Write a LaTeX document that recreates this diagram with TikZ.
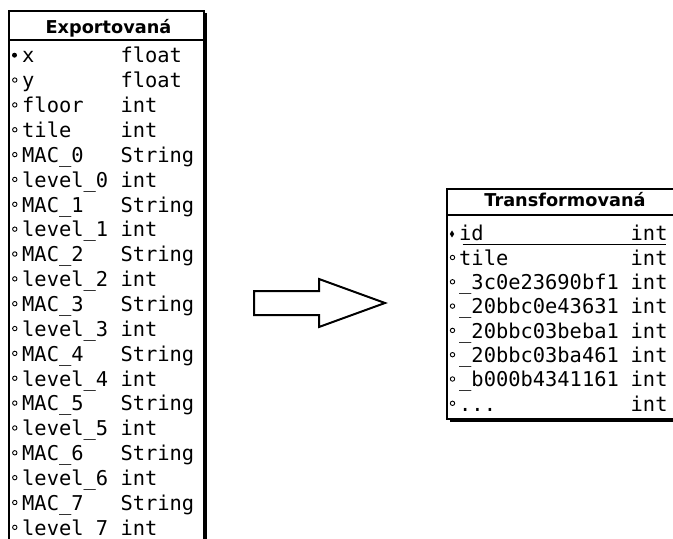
\documentclass[tikz,border=0pt]{standalone}
\usepackage{fontspec}
\setmonofont{DejaVu Sans Mono}
\setsansfont{DejaVu Sans}
\newcommand\fieldfont{\fontsize{20.4bp}{24bp}\selectfont\ttfamily}
\newcommand\headfont{\fontsize{17.7bp}{20bp}\selectfont\sffamily\bfseries}
\newcommand\morefields{...}
\begin{document}
\begin{tikzpicture}[x=1bp,y=-1bp,
  field/.style={anchor=base west,inner sep=0pt,font=\fieldfont},
  head/.style={anchor=base,inner sep=0pt,font=\headfont},
  frame/.style={draw=black,fill=white,line width=1.5bp},
  shadow/.style={fill=black},
  rule/.style={line width=2bp},
  openmark/.style={draw=black,line width=0.9bp,fill=white},
  blockarrow/.style={draw=black,fill=white,line width=2bp,line join=miter}]
\useasboundingbox (0,0) rectangle (673,539);

% ---------- table "Exportovaná" ----------
\fill[shadow] (11.5,13.5) rectangle (206.5,570);
\draw[frame] (9,11) rectangle (204,570);
\draw[rule] (9,40) -- (204,40);
\node[head] (exphead) at (108.5,33.5) {Exportovaná};

\foreach \nm/\ty [count=\i] in {x/float, y/float, floor/int, tile/int,
    MAC\_0/String, level\_0/int, MAC\_1/String, level\_1/int,
    MAC\_2/String, level\_2/int, MAC\_3/String, level\_3/int,
    MAC\_4/String, level\_4/int, MAC\_5/String, level\_5/int,
    MAC\_6/String, level\_6/int, MAC\_7/String, level\_7/int}{
  \pgfmathsetmacro\by{63+(\i-1)*24.85}
  \node[field] (expname\i) at (22,\by) {\nm};
  \node[field] (exptype\i) at (120.3,\by) {\ty};
  \ifnum\i=1
    \fill (14.5,\by-7.8) circle (2.5);
  \else
    \draw[openmark] (14.8,\by-7.8) circle (2.2);
  \fi
}

% ---------- block arrow ----------
\draw[blockarrow] (254,291) -- (319,291) -- (319,279) -- (385,303)
  -- (319,327) -- (319,315) -- (254,315) -- cycle;

% ---------- table "Transformovaná" ----------
\fill[shadow] (449.5,191.5) rectangle (692.5,421.5);
\draw[frame] (447,189) rectangle (690,419);
\draw[rule] (447,215) -- (690,215);
\node[head] (trhead) at (565,206.5) {Transformovaná};

\foreach \nm [count=\i] in {id, tile, \_3c0e23690bf1, \_20bbc0e43631,
    \_20bbc03beba1, \_20bbc03ba461, \_b000b4341161, \morefields}{
  \pgfmathsetmacro\by{241+(\i-1)*24.3}
  \node[field] (trname\i) at (459,\by) {\nm};
  \node[field] (trtype\i) at (630.5,\by) {int};
  \ifnum\i=1
    \fill (452,\by-10.5) -- (454.2,\by-7) -- (452,\by-3.5) -- (449.8,\by-7) -- cycle;
  \else
    \draw[openmark] (452.5,\by-7.8) circle (2.2);
  \fi
}
% primary key underline
\draw[line width=1.3bp] (462.5,244.4) -- (666,244.4);
\end{tikzpicture}
\end{document}
